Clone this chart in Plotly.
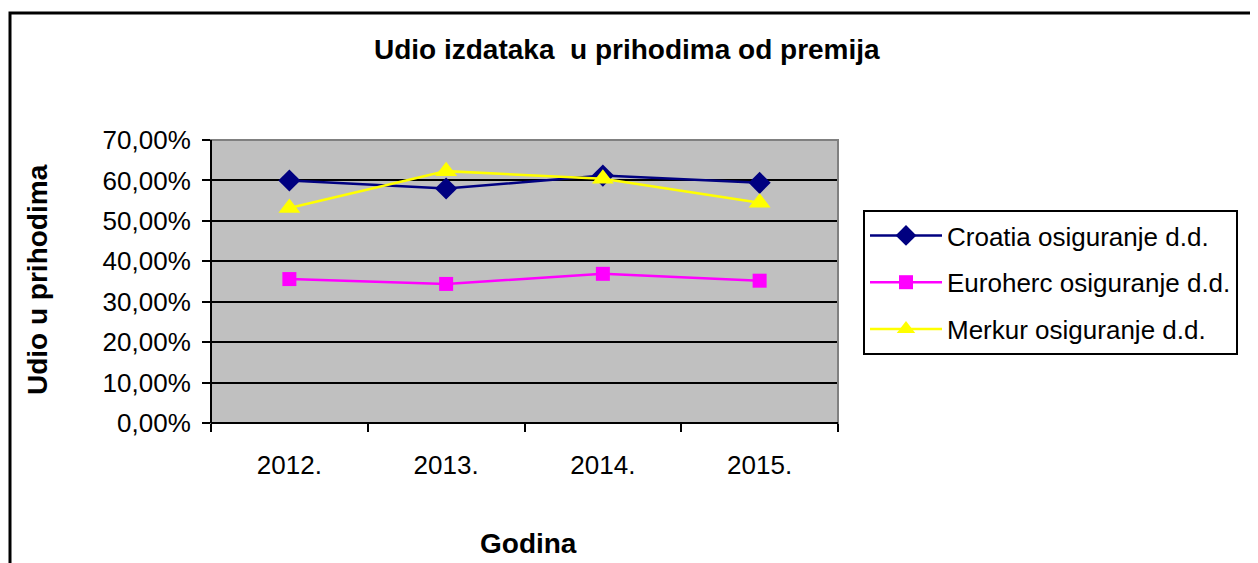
import plotly.graph_objects as go

years = ["2012.", "2013.", "2014.", "2015."]
croatia = [0.600, 0.580, 0.612, 0.594]
euroherc = [0.356, 0.344, 0.369, 0.352]
merkur = [0.532, 0.623, 0.604, 0.545]

series_names = ["Croatia osiguranje d.d.", "Euroherc osiguranje d.d.", "Merkur osiguranje d.d."]
y_ticks = [0, 0.1, 0.2, 0.3, 0.4, 0.5, 0.6, 0.7]

OFF = 8  # page body margin
W, H = 1258 - OFF, 563 - OFF
# plot area in screen pixels
L, R, T, B = 211, 838, 140, 423
pw, ph = R - L, B - T

def px(x):
    return (x - L) / pw

def py(y):
    return (B - y) / ph

FONT = "Liberation Sans, Arial, sans-serif"

fig = go.Figure()
fig.add_trace(go.Scatter(x=years, y=croatia, name=series_names[0], mode="lines+markers",
                         line=dict(color="#000080", width=2.5),
                         marker=dict(symbol="diamond", size=17, color="#000080"),
                         legendgroup="a"))
fig.add_trace(go.Scatter(x=years, y=euroherc, name=series_names[1], mode="lines+markers",
                         line=dict(color="#FF00FF", width=2.5),
                         marker=dict(symbol="square", size=14, color="#FF00FF"),
                         legendgroup="b"))
fig.add_trace(go.Scatter(x=years, y=merkur, name=series_names[2], mode="lines+markers",
                         line=dict(color="#FFFF00", width=2.5),
                         marker=dict(symbol="triangle-up", size=19, color="#FFFF00"),
                         legendgroup="c"))

fig.update_layout(
    width=W, height=H,
    margin=dict(l=L - OFF, r=1258 - R, t=T - OFF, b=563 - B, pad=0),
    paper_bgcolor="white",
    plot_bgcolor="#C0C0C0",
    separators=",.",
    font=dict(family=FONT, size=26, color="black"),
    showlegend=True,
    legend=dict(
        x=px(863), y=py(210), xanchor="left", yanchor="top",
        bgcolor="white", bordercolor="black", borderwidth=2,
        font=dict(family=FONT, size=26, color="black"),
        traceorder="grouped", tracegroupgap=10,
        itemwidth=72,
    ),
    xaxis=dict(
        type="category", tickson="boundaries", ticks="outside", ticklen=8,
        tickwidth=2, tickcolor="black", showgrid=False, showline=False,
        zeroline=False, tickfont=dict(family=FONT, size=26),
        ticklabelstandoff=24, range=[-0.5, 3.5],
    ),
    yaxis=dict(
        range=[0, 0.7], tickvals=y_ticks, tickformat=".2%",
        ticks="outside", ticklen=8, tickwidth=2, tickcolor="black",
        showgrid=True, gridcolor="black", gridwidth=2,
        showline=False, zeroline=False, tickfont=dict(family=FONT, size=26),
        ticklabelstandoff=6,
    ),
    shapes=[
        dict(type="rect", xref="paper", yref="paper",
             x0=px(10), x1=px(1300), y0=py(620), y1=py(13),
             line=dict(color="black", width=3), fillcolor="rgba(0,0,0,0)"),
        dict(type="rect", xref="paper", yref="paper", x0=0, x1=1, y0=0, y1=1,
             line=dict(color="#808080", width=2), fillcolor="rgba(0,0,0,0)", layer="above"),
        dict(type="line", xref="paper", yref="paper", x0=0, x1=0, y0=0, y1=1,
             line=dict(color="black", width=2), layer="above"),
        dict(type="line", xref="paper", yref="paper", x0=0, x1=1, y0=0, y1=0,
             line=dict(color="black", width=2), layer="above"),
    ],
    annotations=[
        dict(text="<b>Udio izdataka  u prihodima od premija</b>", xref="paper", yref="paper",
             x=px(627), y=py(50), xanchor="center", yanchor="middle", showarrow=False,
             font=dict(family=FONT, size=28, color="black")),
        dict(text="<b>Udio u prihodima</b>", xref="paper", yref="paper",
             x=px(37), y=py(280), xanchor="center", yanchor="middle", showarrow=False,
             textangle=-90, font=dict(family=FONT, size=28, color="black")),
        dict(text="<b>Godina</b>", xref="paper", yref="paper",
             x=px(528), y=py(543), xanchor="center", yanchor="middle", showarrow=False,
             font=dict(family=FONT, size=28, color="black")),
    ],
)

fig.write_html("out.html")
